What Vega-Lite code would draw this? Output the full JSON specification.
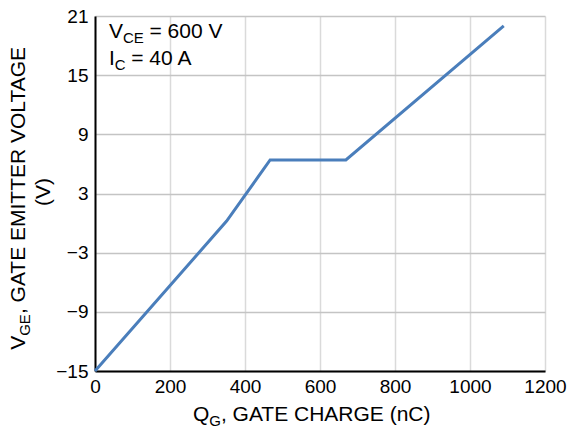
{
  "$schema": "https://vega.github.io/schema/vega-lite/v6.json",
  "width": 450,
  "height": 355,
  "autosize": {"type": "none"},
  "padding": {"left": 95, "top": 16, "right": 29, "bottom": 63},
  "background": "white",
  "config": {
    "view": {"stroke": null},
    "font": "Liberation Sans",
    "axis": {
      "domainColor": "black",
      "domainWidth": 2,
      "labelFont": "Liberation Sans",
      "labelFontSize": 19,
      "labelColor": "black",
      "ticks": false,
      "tickSize": 0,
      "gridWidth": 1.5
    },
    "text": {"font": "Liberation Sans", "color": "black", "align": "left", "baseline": "alphabetic"}
  },
  "encoding": {
    "x": {
      "field": "qg", "type": "quantitative",
      "scale": {"domain": [0, 1200], "nice": false},
      "axis": {"values": [0, 200, 400, 600, 800, 1000, 1200], "title": null, "grid": true, "gridColor": "#dadada", "labelPadding": 6, "format": "d", "labelFlush": false}
    },
    "y": {
      "field": "vge", "type": "quantitative",
      "scale": {"domain": [-15, 21], "nice": false},
      "axis": {"values": [-15, -9, -3, 3, 9, 15, 21], "title": null, "grid": true, "gridColor": "#c4c4c4", "labelPadding": 7, "format": "d", "labelFlush": false}
    }
  },
  "layer": [
    {
      "data": {"values": [
        {"qg": 0, "vge": -15},
        {"qg": 351, "vge": 0.2},
        {"qg": 467, "vge": 6.4},
        {"qg": 669, "vge": 6.4},
        {"qg": 1090, "vge": 20}
      ]},
      "mark": {"type": "line", "color": "#4a7ebb", "strokeWidth": 3}
    },
    {
      "data": {"values": [{"qg": 37, "vge": 18.77, "s": "V"}]},
      "mark": {"type": "text", "fontSize": 21},
      "encoding": {"text": {"field": "s"}}
    },
    {
      "data": {"values": [{"qg": 37, "vge": 18.77, "s": "CE"}]},
      "mark": {"type": "text", "fontSize": 15, "dx": 14, "dy": 5},
      "encoding": {"text": {"field": "s"}}
    },
    {
      "data": {"values": [{"qg": 37, "vge": 18.77, "s": "= 600 V"}]},
      "mark": {"type": "text", "fontSize": 21, "dx": 40.6},
      "encoding": {"text": {"field": "s"}}
    },
    {
      "data": {"values": [{"qg": 37, "vge": 16.03, "s": "I"}]},
      "mark": {"type": "text", "fontSize": 21},
      "encoding": {"text": {"field": "s"}}
    },
    {
      "data": {"values": [{"qg": 37, "vge": 16.03, "s": "C"}]},
      "mark": {"type": "text", "fontSize": 15, "dx": 5.8, "dy": 5},
      "encoding": {"text": {"field": "s"}}
    },
    {
      "data": {"values": [{"qg": 37, "vge": 16.03, "s": "= 40 A"}]},
      "mark": {"type": "text", "fontSize": 21, "dx": 22.4},
      "encoding": {"text": {"field": "s"}}
    },
    {
      "data": {"values": [{"qg": 261, "vge": -20.12, "s": "Q"}]},
      "mark": {"type": "text", "fontSize": 21},
      "encoding": {"text": {"field": "s"}}
    },
    {
      "data": {"values": [{"qg": 261, "vge": -20.12, "s": "G"}]},
      "mark": {"type": "text", "fontSize": 15, "dx": 16.3, "dy": 5},
      "encoding": {"text": {"field": "s"}}
    },
    {
      "data": {"values": [{"qg": 261, "vge": -20.12, "s": ", GATE CHARGE (nC)"}]},
      "mark": {"type": "text", "fontSize": 21, "dx": 28},
      "encoding": {"text": {"field": "s"}}
    },
    {
      "data": {"values": [{"qg": -186.7, "vge": -12.85, "s": "V"}]},
      "mark": {"type": "text", "fontSize": 21, "angle": 270},
      "encoding": {"text": {"field": "s"}}
    },
    {
      "data": {"values": [{"qg": -186.7, "vge": -12.85, "s": "GE"}]},
      "mark": {"type": "text", "fontSize": 15, "angle": 270, "dx": 14, "dy": 5},
      "encoding": {"text": {"field": "s"}}
    },
    {
      "data": {"values": [{"qg": -186.7, "vge": -12.85, "s": ", GATE EMITTER VOLTAGE"}]},
      "mark": {"type": "text", "fontSize": 21, "angle": 270, "dx": 35.7},
      "encoding": {"text": {"field": "s"}}
    },
    {
      "data": {"values": [{"qg": -120, "vge": 3.16, "s": "(V)"}]},
      "mark": {"type": "text", "fontSize": 21, "angle": 270, "align": "center"},
      "encoding": {"text": {"field": "s"}}
    }
  ]
}
